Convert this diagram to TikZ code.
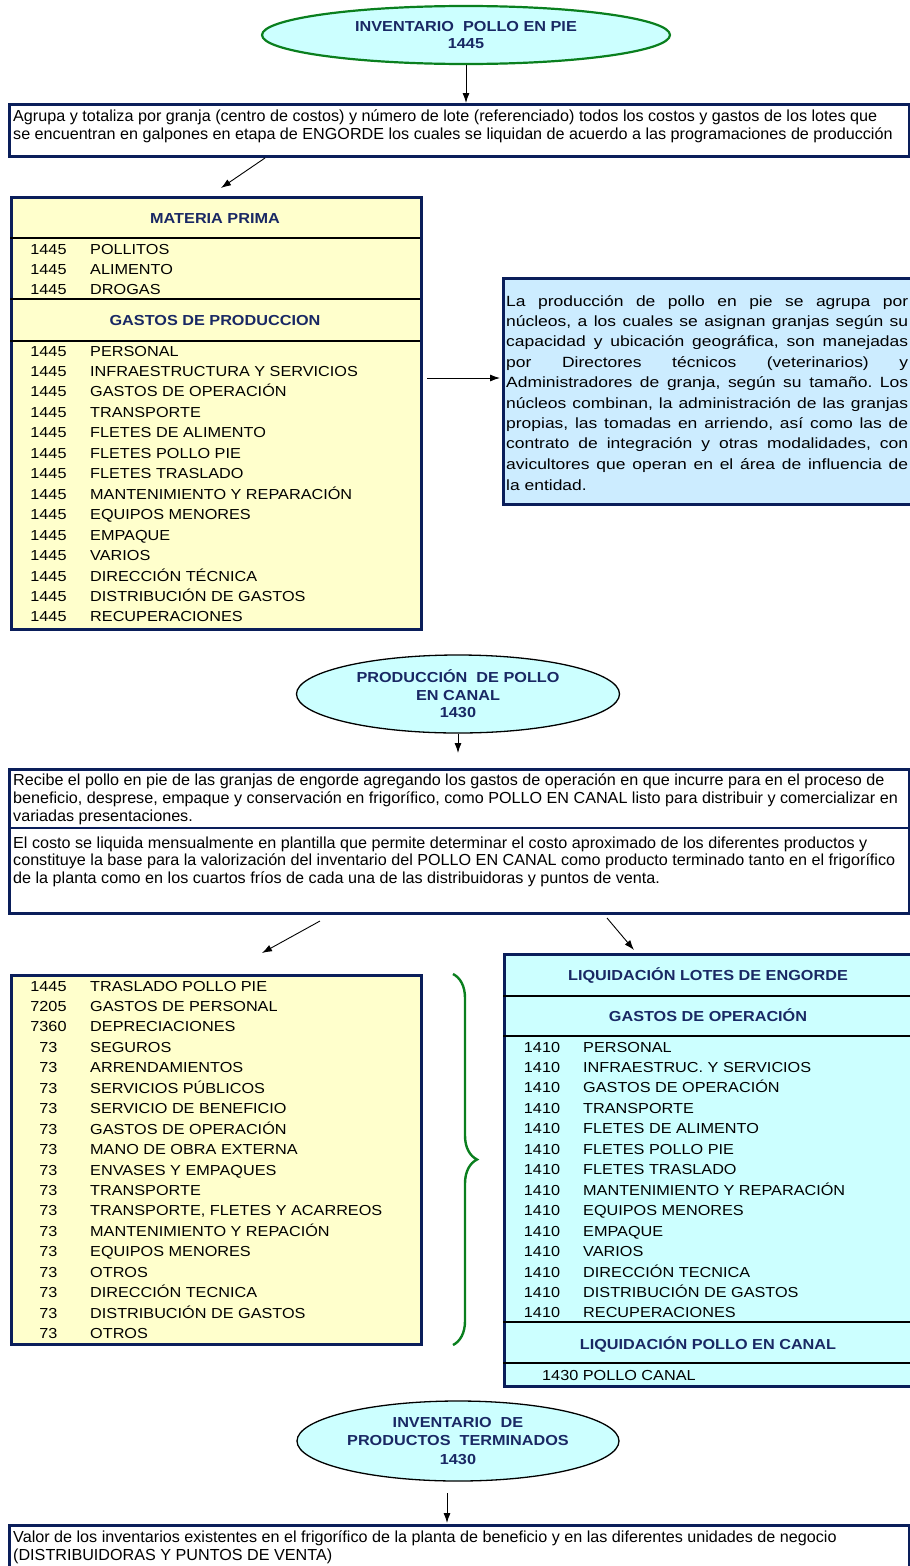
\documentclass[tikz,border=0pt]{standalone}
\usepackage{fontspec}
\setmainfont{Liberation Sans}
\newfontfamily\parrafo[FakeStretch=1.01]{Liberation Sans}
\newfontfamily\lista[FakeStretch=1.12]{Liberation Sans}
\newfontfamily\ancho[FakeStretch=1.18]{Liberation Sans}
\usetikzlibrary{shapes.geometric, decorations.pathreplacing, arrows.meta}
\frenchspacing

\definecolor{marino}{RGB}{10,30,90}
\definecolor{titulo}{RGB}{25,40,100}
\definecolor{cian}{HTML}{CCFFFF}
\definecolor{amarillo}{HTML}{FFFFCC}
\definecolor{celeste}{HTML}{CCECFF}
\definecolor{verde}{HTML}{0A7F1E}

\begin{document}
\begin{tikzpicture}[
    x=1pt, y=-1pt,              % una unidad = un pixel, y hacia abajo
    >={Latex[length=10pt, width=7pt]},
    flecha/.style={->, line width=0.9pt},
    ovalo/.style={ellipse, draw, line width=1.3pt, fill=cian, inner sep=0pt,
        align=center, text=titulo, font=\lista\bfseries\fontsize{14.5}{17.5}\selectfont},
    caja/.style={rectangle, draw=marino, line width=2.6pt, inner sep=0pt, anchor=north west},
    regla/.style={line width=2pt},
    parr/.style={anchor=base west, inner sep=0pt, font=\parrafo\fontsize{16}{18}\selectfont},
    just/.style={anchor=base west, inner sep=0pt, font=\ancho\fontsize{14.8}{20}\selectfont},
    cod/.style={anchor=base, inner sep=0pt, font=\lista\fontsize{14.5}{17}\selectfont},
    item/.style={anchor=base west, inner sep=0pt, font=\lista\fontsize{14.5}{17}\selectfont},
    encab/.style={anchor=base, inner sep=0pt, text=titulo, font=\lista\bfseries\fontsize{14.5}{17}\selectfont}
]
    \path[use as bounding box, clip] (0,0) rectangle (910,1566);

    % --- 1. Inventario pollo en pie ---
    \node[ovalo, draw=verde, line width=2.2pt, minimum width=408pt, minimum height=58pt]
        (e1) at (466,35) {INVENTARIO\ \ POLLO EN PIE\\1445};

    \node[caja, fill=white, minimum width=900pt, minimum height=52pt] (b1) at (8,103) {};
    \node[parr] (b1a) at (13,121) {Agrupa y totaliza por granja (centro de costos) y número de lote (referenciado) todos los costos y gastos de los lotes que};
    \node[parr] (b1b) at (13,139) {se encuentran en galpones en etapa de ENGORDE los cuales se liquidan de acuerdo a las programaciones de producción};

    \draw[flecha] (e1.south) -- (e1.south |- b1.north);

    \coordinate (d1a) at (265,158);
    \coordinate (d1b) at (221,188);
    \draw[flecha] (d1a) -- (d1b);

    % --- 2. Materia prima y gastos de produccion ---
    \node[caja, fill=amarillo, minimum width=410pt, minimum height=432pt] (mp) at (10,196) {};
    \draw[regla] (10,238) -- (420,238);
    \draw[regla] (10,299) -- (420,299);
    \draw[regla] (10,341) -- (420,341);

    \node[encab] (mph) at (215,223) {MATERIA PRIMA};
    \foreach \nom [count=\i] in {POLLITOS, ALIMENTO, DROGAS} {
        \node[cod]  (mpc\i) at (48.5,{254+20*(\i-1)}) {1445};
        \node[item] (mpn\i) at (90,{254+20*(\i-1)}) {\nom};
    }

    \node[encab] (gph) at (215,325) {GASTOS DE PRODUCCION};
    \foreach \nom [count=\i] in {PERSONAL, INFRAESTRUCTURA Y SERVICIOS, GASTOS DE OPERACIÓN,
        TRANSPORTE, FLETES DE ALIMENTO, FLETES POLLO PIE, FLETES TRASLADO,
        MANTENIMIENTO Y REPARACIÓN, EQUIPOS MENORES, EMPAQUE, VARIOS,
        DIRECCIÓN TÉCNICA, DISTRIBUCIÓN DE GASTOS, RECUPERACIONES} {
        \node[cod]  (gpc\i) at (48.5,{356+20.46*(\i-1)}) {1445};
        \node[item] (gpn\i) at (90,{356+20.46*(\i-1)}) {\nom};
    }

    % --- 3. Nota de nucleos ---
    \node[caja, fill=celeste, minimum width=411pt, minimum height=226pt] (az) at (502,277) {};
    \foreach \txt [count=\i] in {
        La producción de pollo en pie se agrupa por,
        {núcleos, a los cuales se asignan granjas según su},
        {capacidad y ubicación geográfica, son manejadas},
        por Directores técnicos (veterinarios) y,
        {Administradores de granja, según su tamaño. Los},
        {núcleos combinan, la administración de las granjas},
        {propias, las tomadas en arriendo, así como las de},
        {contrato de integración y otras modalidades, con},
        avicultores que operan en el área de influencia de} {
        \node[just] (az\i) at (506,{306+20.4*(\i-1)}) {\makebox[402pt][s]{\txt}};
    }
    \node[just] (az10) at (506,490) {la entidad.};

    \coordinate (h1) at (427,378);
    \coordinate (h2) at (500,378);
    \draw[flecha] (h1) -- (h2);

    % --- 4. Produccion de pollo en canal ---
    \node[ovalo, minimum width=323pt, minimum height=78pt]
        (e2) at (458,694) {PRODUCCIÓN\ \ DE POLLO\\EN CANAL\\1430};

    \coordinate (p2) at (458,753);
    \draw[flecha] (e2.south) -- (p2);

    \node[caja, fill=white, minimum width=900pt, minimum height=144pt] (b2) at (8,768) {};
    \draw[regla, draw=marino] (8,828) -- (908,828);
    \foreach \txt [count=\i] in {
        Recibe el pollo en pie de las granjas de engorde agregando los gastos de operación en que incurre para en el proceso de,
        {beneficio, desprese, empaque y conservación en frigorífico, como POLLO EN CANAL listo para distribuir y comercializar en},
        variadas presentaciones.} {
        \node[parr] (b2a\i) at (13,{785+18*(\i-1)}) {\txt};
    }
    \foreach \txt [count=\i] in {
        El costo se liquida mensualmente en plantilla que permite determinar el costo aproximado de los diferentes productos y,
        constituye la base para la valorización del inventario del POLLO EN CANAL como producto terminado tanto en el frigorífico,
        de la planta como en los cuartos fríos de cada una de las distribuidoras y puntos de venta.} {
        \node[parr] (b2b\i) at (13,{848+17.5*(\i-1)}) {\txt};
    }

    \coordinate (d2a) at (320,921);
    \coordinate (d2b) at (262,953);
    \coordinate (d3a) at (607,918);
    \coordinate (d3b) at (634,950);
    \draw[flecha] (d2a) -- (d2b);
    \draw[flecha] (d3a) -- (d3b);

    % --- 5. Gastos de la planta (izquierda) ---
    \node[caja, fill=amarillo, minimum width=410pt, minimum height=369pt] (ti) at (10,974) {};
    \foreach \c/\nom [count=\i] in {1445/TRASLADO POLLO PIE, 7205/GASTOS DE PERSONAL,
        7360/DEPRECIACIONES, 73/SEGUROS, 73/ARRENDAMIENTOS, 73/SERVICIOS PÚBLICOS,
        73/SERVICIO DE BENEFICIO, 73/GASTOS DE OPERACIÓN, 73/MANO DE OBRA EXTERNA,
        73/ENVASES Y EMPAQUES, 73/TRANSPORTE, 73/{TRANSPORTE, FLETES Y ACARREOS},
        73/MANTENIMIENTO Y REPACIÓN, 73/EQUIPOS MENORES, 73/OTROS,
        73/DIRECCIÓN TECNICA, 73/DISTRIBUCIÓN DE GASTOS, 73/OTROS} {
        \node[cod]  (tic\i) at (48.5,{991+20.45*(\i-1)}) {\c};
        \node[item] (tin\i) at (90,{991+20.45*(\i-1)}) {\nom};
    }

    \draw[verde, line width=2.4pt, decorate, decoration={brace, amplitude=24pt}]
        (453,974) -- (453,1345);

    % --- 6. Liquidacion (derecha) ---
    \node[caja, fill=cian, minimum width=410pt, minimum height=432pt] (td) at (503,953) {};
    \draw[regla] (503,996) -- (913,996);
    \draw[regla] (503,1036) -- (913,1036);
    \draw[regla] (503,1322) -- (913,1322);
    \draw[regla] (503,1363) -- (913,1363);

    \node[encab] (tdh1) at (708,980) {LIQUIDACIÓN LOTES DE ENGORDE};
    \node[encab] (tdh2) at (708,1021) {GASTOS DE OPERACIÓN};
    \foreach \nom [count=\i] in {PERSONAL, INFRAESTRUC. Y SERVICIOS, GASTOS DE OPERACIÓN,
        TRANSPORTE, FLETES DE ALIMENTO, FLETES POLLO PIE, FLETES TRASLADO,
        MANTENIMIENTO Y REPARACIÓN, EQUIPOS MENORES, EMPAQUE, VARIOS,
        DIRECCIÓN TECNICA, DISTRIBUCIÓN DE GASTOS, RECUPERACIONES} {
        \node[cod]  (tdc\i) at (542,{1052+20.46*(\i-1)}) {1410};
        \node[item] (tdn\i) at (583,{1052+20.46*(\i-1)}) {\nom};
    }
    \node[encab] (tdh3) at (708,1349) {LIQUIDACIÓN POLLO EN CANAL};
    \node[item] (tdp) at (542,1380) {1430 POLLO CANAL};

    % --- 7. Inventario de productos terminados ---
    \node[ovalo, minimum width=322pt, minimum height=80pt,
        font=\lista\bfseries\fontsize{14.5}{18.5}\selectfont]
        (e3) at (458,1441) {INVENTARIO\ \ DE\\PRODUCTOS\ \ TERMINADOS\\1430};

    \coordinate (p3a) at (447,1493);
    \coordinate (p3b) at (447,1523);
    \draw[flecha] (p3a) -- (p3b);

    \node[caja, fill=white, minimum width=900pt, minimum height=60pt] (b4) at (8,1524) {};
    \node[parr] (b4a) at (13,1542) {Valor de los inventarios existentes en el frigorífico de la planta de beneficio y en las diferentes unidades de negocio};
    \node[parr] (b4b) at (13,1560) {(DISTRIBUIDORAS Y PUNTOS DE VENTA)};

\end{tikzpicture}
\end{document}
